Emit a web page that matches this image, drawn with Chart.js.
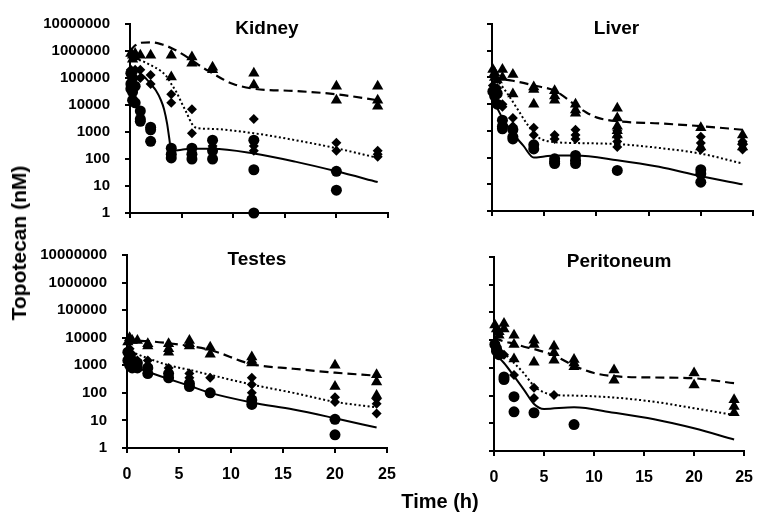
<!DOCTYPE html>
<html>
<head>
<meta charset="utf-8">
<script src="https://cdn.jsdelivr.net/npm/chart.js@4.4.1/dist/chart.umd.min.js"></script>
<style>
  body { margin: 0; background: #fff; width: 765px; height: 513px; overflow: hidden; position: relative;
         font-family: "Liberation Sans", Arial, sans-serif; }
  canvas { position: absolute; left: 0; top: 0; }
  .title { position: absolute; font-weight: bold; font-size: 20px; color: #000; white-space: nowrap; }
  #ytitle { left: 19px; top: 243px; font-size: 21px; transform: translate(-50%, -50%) rotate(-90deg); }
  #xtitle { left: 440px; top: 501px; transform: translate(-50%, -50%); }
</style>
</head>
<body>
<canvas id="c0" width="765" height="513"></canvas>
<canvas id="c1" width="765" height="513"></canvas>
<canvas id="c2" width="765" height="513"></canvas>
<canvas id="c3" width="765" height="513"></canvas>
<div class="title" id="ytitle">Topotecan (nM)</div>
<div class="title" id="xtitle">Time (h)</div>
<script>
// ticks and panel names
const yTicks = [1, 10, 100, 1000, 10000, 100000, 1000000, 10000000];
const xTicks = [0, 5, 10, 15, 20, 25];
const panelNames = ['Kidney', 'Liver', 'Testes', 'Peritoneum'];

// Kidney: measured points [time h, nM] and model curves
const kidneyCircles = [[0.083,150000],[0.083,60000],[0.083,40000],[0.25,100000],[0.25,30000],[0.25,15000],[0.5,50000],[0.5,12000],
  [1,6000],[1,3000],[1,2500],[2,1500],[2,1200],[2,450],[4,250],[4,150],[4,110],[6,250],[6,150],[6,100],
  [8,500],[8,200],[8,100],[12,500],[12,40],[12,1],[20,35],[20,7]];
const kidneyDiamonds = [[0.083,200000],[0.25,150000],[0.25,100000],[0.5,200000],[1,200000],[1,100000],[2,130000],[2,60000],
  [4,25000],[4,12000],[6,7000],[6,900],[8,500],[8,300],[12,3000],[12,500],[12,300],[12,200],[20,400],[20,200],
  [24,200],[24,150],[24,120]];
const kidneyTriangles = [[0.083,800000],[0.25,700000],[0.25,500000],[0.5,800000],[0.5,600000],[1,700000],[2,700000],
  [4,700000],[4,110000],[6,600000],[6,350000],[8,250000],[8,200000],[12,150000],[12,55000],[20,50000],[20,15000],
  [24,50000],[24,15000],[24,9000]];
const kidneySolid = [[0,150000],[0.5,180000],[1,150000],[1.5,100000],[2,60000],[2.5,35000],[3,15000],[3.3,7000],[3.6,2000],
  [3.8,600],[4,200],[5,220],[6,240],[8,240],[12,160],[16,80],[20,35],[24,14]];
const kidneyDotted = [[0,500000],[1,450000],[2,300000],[3,180000],[3.5,120000],[4,60000],[4.5,30000],[5,12000],[5.5,5000],
  [6,2000],[6.5,1400],[8,1300],[12,900],[16,500],[20,250],[24,110]];
const kidneyDashed = [[0,1000000],[0.5,1600000],[1,2000000],[2,2100000],[3,1800000],[4,1300000],[5,800000],[6,450000],
  [7,250000],[8,150000],[9,90000],[10,60000],[12,40000],[16,33000],[20,25000],[24,15000]];

// Liver
const liverCircles = [[0.083,30000],[0.25,20000],[0.5,10000],[0.5,25000],[1,2500],[1,1500],[1,1200],[2,1100],[2,600],[2,500],
  [4,300],[4,210],[6,90],[6,70],[6,60],[8,120],[8,80],[8,60],[12,33],[20,35],[20,25],[20,12]];
const liverDiamonds = [[0.083,50000],[0.25,30000],[0.5,40000],[1,10000],[1,8000],[2,3000],[2,1500],[4,1300],[4,700],
  [6,700],[6,500],[8,1100],[8,700],[8,500],[12,1000],[12,600],[12,400],[12,250],[20,600],[20,350],[20,200],
  [24,400],[24,300],[24,200]];
const liverTriangles = [[0.083,200000],[0.25,150000],[0.25,100000],[0.5,80000],[1,200000],[1,100000],[2,130000],[2,24000],
  [4,44000],[4,35000],[4,10000],[6,32000],[6,20000],[6,14000],[8,10000],[8,6000],[8,4600],[12,7000],[12,3000],
  [12,1500],[12,1000],[12,700],[20,1300],[20,250],[24,700],[24,400],[24,250]];
const liverSolid = [[0,15000],[0.5,7000],[1,3000],[2,800],[3,280],[4,100],[5,110],[6,120],[8,120],[12,80],[16,45],[20,20],[24,10]];
const liverDotted = [[0,100000],[0.5,75000],[1.5,24000],[2.5,6000],[3.5,1500],[4.5,550],[6,380],[8,350],[12,320],[16,230],[20,140],[24,60]];
const liverDashed = [[0,100000],[1,85000],[2,75000],[4,50000],[6,32000],[7,18000],[8,9000],[9,5000],[10,3200],[12,2300],
  [16,1900],[20,1500],[24,1100]];

// Testes
const testesCircles = [[0.083,3000],[0.083,1500],[0.25,2000],[0.25,1000],[0.5,1500],[0.5,800],[1,1200],[1,800],[2,800],[2,500],
  [4,500],[4,350],[6,220],[6,170],[8,100],[12,55],[12,38],[20,11],[20,3]];
const testesDiamonds = [[0.083,3000],[0.25,4000],[0.25,2000],[0.5,2500],[1,1500],[1,1000],[2,1500],[2,1000],[4,800],[4,500],
  [6,500],[6,350],[6,250],[8,350],[12,350],[12,200],[12,100],[12,70],[20,70],[20,47],[24,60],[24,40],[24,18]];
const testesTriangles = [[0.083,7000],[0.25,10000],[0.5,8000],[1,8000],[2,6000],[2,5000],[4,6000],[4,4000],[4,3000],
  [6,8000],[6,6000],[6,5000],[8,4500],[8,2500],[12,2000],[12,1500],[12,1200],[20,1000],[20,170],[24,450],[24,250],[24,80]];
const testesSolid = [[0,1100],[1,800],[2,580],[4,320],[6,180],[8,100],[12,45],[16,25],[20,12],[24,5.5]];
const testesDotted = [[0,3500],[2,1800],[4,1000],[6,680],[8,450],[12,200],[16,100],[20,47],[24,30]];
const testesDashed = [[0,8000],[2,7500],[4,6300],[6,5000],[8,3600],[12,1100],[16,750],[20,540],[24,420]];

// Peritoneum
const periCircles = [[0.083,7000],[0.25,4000],[0.25,5000],[0.5,3000],[1,470],[1,380],[2,91],[2,26],[4,24],[8,9]];
const periDiamonds = [[0.083,8000],[0.25,5000],[0.5,4000],[1,3000],[2,550],[4,190],[4,82],[6,105]];
const periTriangles = [[0.083,35000],[0.25,25000],[0.5,20000],[0.5,15000],[1,40000],[1,25000],[2,15000],[2,7000],[2,2100],
  [4,10000],[4,7000],[4,1600],[6,6000],[6,3500],[6,1900],[8,2000],[8,1500],[8,1100],[12,830],[12,360],[20,650],[20,240],
  [24,70],[24,40],[24,24]];
const periSolid = [[0,3400],[1,1500],[2,500],[3,160],[4,50],[5,33],[8,38],[12,24],[16,14],[20,6.6],[24,2.6]];
const periDotted = [[0,8000],[1,3500],[2,1500],[3,630],[4,220],[5,130],[6,105],[8,100],[12,85],[16,60],[20,35],[24,20]];
const periDashed = [[0,12000],[1,9000],[2,7500],[3,5800],[4,4800],[6,2800],[8,1200],[10,650],[12,500],[16,450],[20,420],[24,280]];

Chart.defaults.font.family = '"Liberation Sans", Arial, sans-serif';
Chart.defaults.font.weight = 'bold';
Chart.defaults.color = '#000';

const toXY = arr => arr.map(p => ({ x: p[0], y: p[1] }));

// draws the organ name inside the top of the plot area
const panelTitle = {
  id: 'panelTitle',
  afterDraw(chart, args, opts) {
    const a = chart.chartArea;
    const ctx = chart.ctx;
    ctx.save();
    ctx.font = 'bold 19px "Liberation Sans", Arial, sans-serif';
    ctx.fillStyle = '#000';
    ctx.textAlign = 'center';
    ctx.textBaseline = 'alphabetic';
    ctx.fillText(opts.text, (a.left + a.right) / 2 + opts.dx, a.top + 10);
    ctx.restore();
  }
};

function pts(data, style, r) {
  return { data: toXY(data), pointStyle: style, pointRadius: r, backgroundColor: '#000', borderColor: '#000',
           borderWidth: 0, showLine: false, clip: false };
}
function curve(data, dash, w) {
  return { data: toXY(data), showLine: true, pointRadius: 0, borderColor: '#000', borderWidth: w, borderDash: dash,
           cubicInterpolationMode: 'monotone', fill: false };
}

function makePanel(id, name, circles, diamonds, triangles, solid, dotted, dashed, box) {
  new Chart(document.getElementById(id), {
    type: 'scatter',
    data: {
      datasets: [
        pts(circles, 'circle', 5.5),
        pts(diamonds, 'rectRot', 5),
        pts(triangles, 'triangle', 6.5),
        curve(solid, [], 2),
        curve(dotted, [2, 2.5], 2),
        curve(dashed, [9, 5], 2.2)
      ]
    },
    options: {
      responsive: false,
      animation: false,
      events: [],
      layout: { padding: box.padding },
      plugins: { legend: { display: false }, tooltip: { enabled: false }, panelTitle: { text: name, dx: box.dx } },
      scales: {
        x: {
          type: 'linear', min: 0, max: 25,
          afterBuildTicks: s => { s.ticks = xTicks.map(v => ({ value: v })); },
          afterFit: s => { s.height = box.xH; },
          grid: { drawOnChartArea: false, color: '#000', lineWidth: 2, tickLength: 5 },
          border: { color: '#000', width: 2 },
          ticks: { font: { size: 16, weight: 'bold' }, padding: 12, maxRotation: 0,
                   callback: v => box.showX ? String(v) : '' }
        },
        y: {
          type: 'logarithmic', min: 1, max: 10000000,
          afterBuildTicks: s => { s.ticks = yTicks.map(v => ({ value: v })); },
          afterFit: s => { s.width = box.yW; },
          grid: { drawOnChartArea: false, color: '#000', lineWidth: 2, tickLength: 5 },
          border: { color: '#000', width: 2 },
          ticks: { font: { size: 15, weight: 'bold' }, padding: 15,
                   callback: v => box.showY ? String(v) : '' }
        }
      }
    },
    plugins: [panelTitle]
  });
}

makePanel('c0', panelNames[0], kidneyCircles, kidneyDiamonds, kidneyTriangles, kidneySolid, kidneyDotted, kidneyDashed,
  { padding: { left: 30, right: 377, top: 20, bottom: 292 }, yW: 100, xH: 8, showX: false, showY: true, dx: 8 });
makePanel('c1', panelNames[1], liverCircles, liverDiamonds, liverTriangles, liverSolid, liverDotted, liverDashed,
  { padding: { left: 484, right: 12, top: 18, bottom: 294 }, yW: 8, xH: 8, showX: false, showY: false, dx: -6 });
makePanel('c2', panelNames[2], testesCircles, testesDiamonds, testesTriangles, testesSolid, testesDotted, testesDashed,
  { padding: { left: 27, right: 378, top: 255, bottom: 25 }, yW: 100, xH: 40, showX: true, showY: true, dx: 0 });
makePanel('c3', panelNames[3], periCircles, periDiamonds, periTriangles, periSolid, periDotted, periDashed,
  { padding: { left: 486, right: 10, top: 257, bottom: 22 }, yW: 8, xH: 40, showX: true, showY: false, dx: 0 });
</script>
</body>
</html>
